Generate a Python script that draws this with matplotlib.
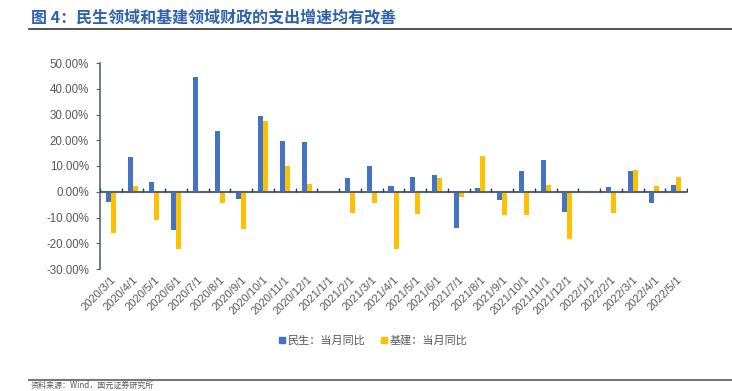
import numpy as np
import matplotlib
matplotlib.use('Agg')
import matplotlib.pyplot as plt
from matplotlib.lines import Line2D

plt.rcParams['font.family'] = ['Liberation Sans', 'Noto Sans CJK SC']

# data, %
dates = ['2020/3/1', '2020/4/1', '2020/5/1', '2020/6/1', '2020/7/1', '2020/8/1',
         '2020/9/1', '2020/10/1', '2020/11/1', '2020/12/1', '2021/1/1', '2021/2/1',
         '2021/3/1', '2021/4/1', '2021/5/1', '2021/6/1', '2021/7/1', '2021/8/1',
         '2021/9/1', '2021/10/1', '2021/11/1', '2021/12/1', '2022/1/1', '2022/2/1',
         '2022/3/1', '2022/4/1', '2022/5/1']
minsheng = [-4.1, 13.4, 3.9, -14.9, 44.5, 23.6, -2.7, 29.4, 19.7, 19.2, 0.0, 5.3,
            10.0, 2.3, 5.7, 6.6, -13.9, 1.4, -3.2, 7.9, 12.2, -8.0, 0.0, 1.8,
            8.0, -4.4, 2.6]
jijian = [-16.0, 2.2, -10.8, -22.4, 0.2, -4.3, -14.3, 27.6, 10.0, 3.2, 0.0, -8.4,
          -4.5, -22.2, -8.7, 5.3, -1.9, 13.7, -8.9, -8.9, 2.6, -18.3, 0.0, -8.2,
          8.4, 2.3, 5.8]
yticks = [-30, -20, -10, 0, 10, 20, 30, 40, 50]

blue = '#4472C4'
yellow = '#FFC000'
axis_col = '#56647A'
txt_col = '#595959'

fig = plt.figure(figsize=(7.32, 3.91), dpi=100)
ax = fig.add_axes([100/732, 1-269/391, 587/732, 206/391])

x = np.arange(len(dates))
w = 0.23
ax.bar(x - w/2, minsheng, width=w, color=blue, zorder=3)
ax.bar(x + w/2, jijian, width=w, color=yellow, zorder=3)

ax.set_xlim(-0.5, len(dates) - 0.5)
ax.set_ylim(-30, 50)
ax.set_yticks(yticks)
ax.set_yticklabels(['%.2f%%' % v for v in yticks], color=txt_col, fontsize=8.3)
ax.tick_params(axis='y', direction='out', length=3, color=axis_col, pad=5)

ax.set_xticks(x)
ax.set_xticklabels(dates, rotation=45, ha='right', va='top', rotation_mode='anchor',
                   color=txt_col, fontsize=8)
ax.tick_params(axis='x', length=0, pad=4)

for s in ['top', 'right', 'bottom']:
    ax.spines[s].set_visible(False)
ax.spines['left'].set_color(axis_col)
ax.spines['left'].set_linewidth(1.2)

# zero line with category boundary ticks
ax.axhline(0, color=axis_col, lw=1.5, zorder=4)
bounds = np.arange(len(dates) + 1) - 0.5
ax.plot(bounds, np.zeros_like(bounds), linestyle='none', marker=2, markersize=3,
        color='#333F50', zorder=4)

handles = [Line2D([], [], marker='s', linestyle='none', color=blue, markersize=5),
           Line2D([], [], marker='s', linestyle='none', color=yellow, markersize=5)]
fig.legend(handles, ['民生：当月同比', '基建：当月同比'], loc='center',
           bbox_to_anchor=(373/732, 1-341/391), ncol=2, frameon=False,
           fontsize=8, labelcolor=txt_col, handlelength=0.6, handletextpad=0.2,
           columnspacing=1.4)

fig.text(31/732, 1-17/391, '图 4：民生领域和基建领域财政的支出增速均有改善',
         fontsize=11.5, fontweight='bold', color='#2E62AE', va='center',
         family=['Noto Sans CJK SC'])
fig.add_artist(Line2D([29/732, 1], [1-28.5/391, 1-28.5/391], color='#333333', lw=1.2))
fig.add_artist(Line2D([29/732, 1], [1-380/391, 1-380/391], color='#777777', lw=1.5))
fig.text(31/732, 1.5/391, '资料来源：Wind，国元证券研究所', fontsize=5.8,
         color=txt_col, va='bottom', family=['Noto Sans CJK SC'])

fig.savefig('out.png', dpi=100)
